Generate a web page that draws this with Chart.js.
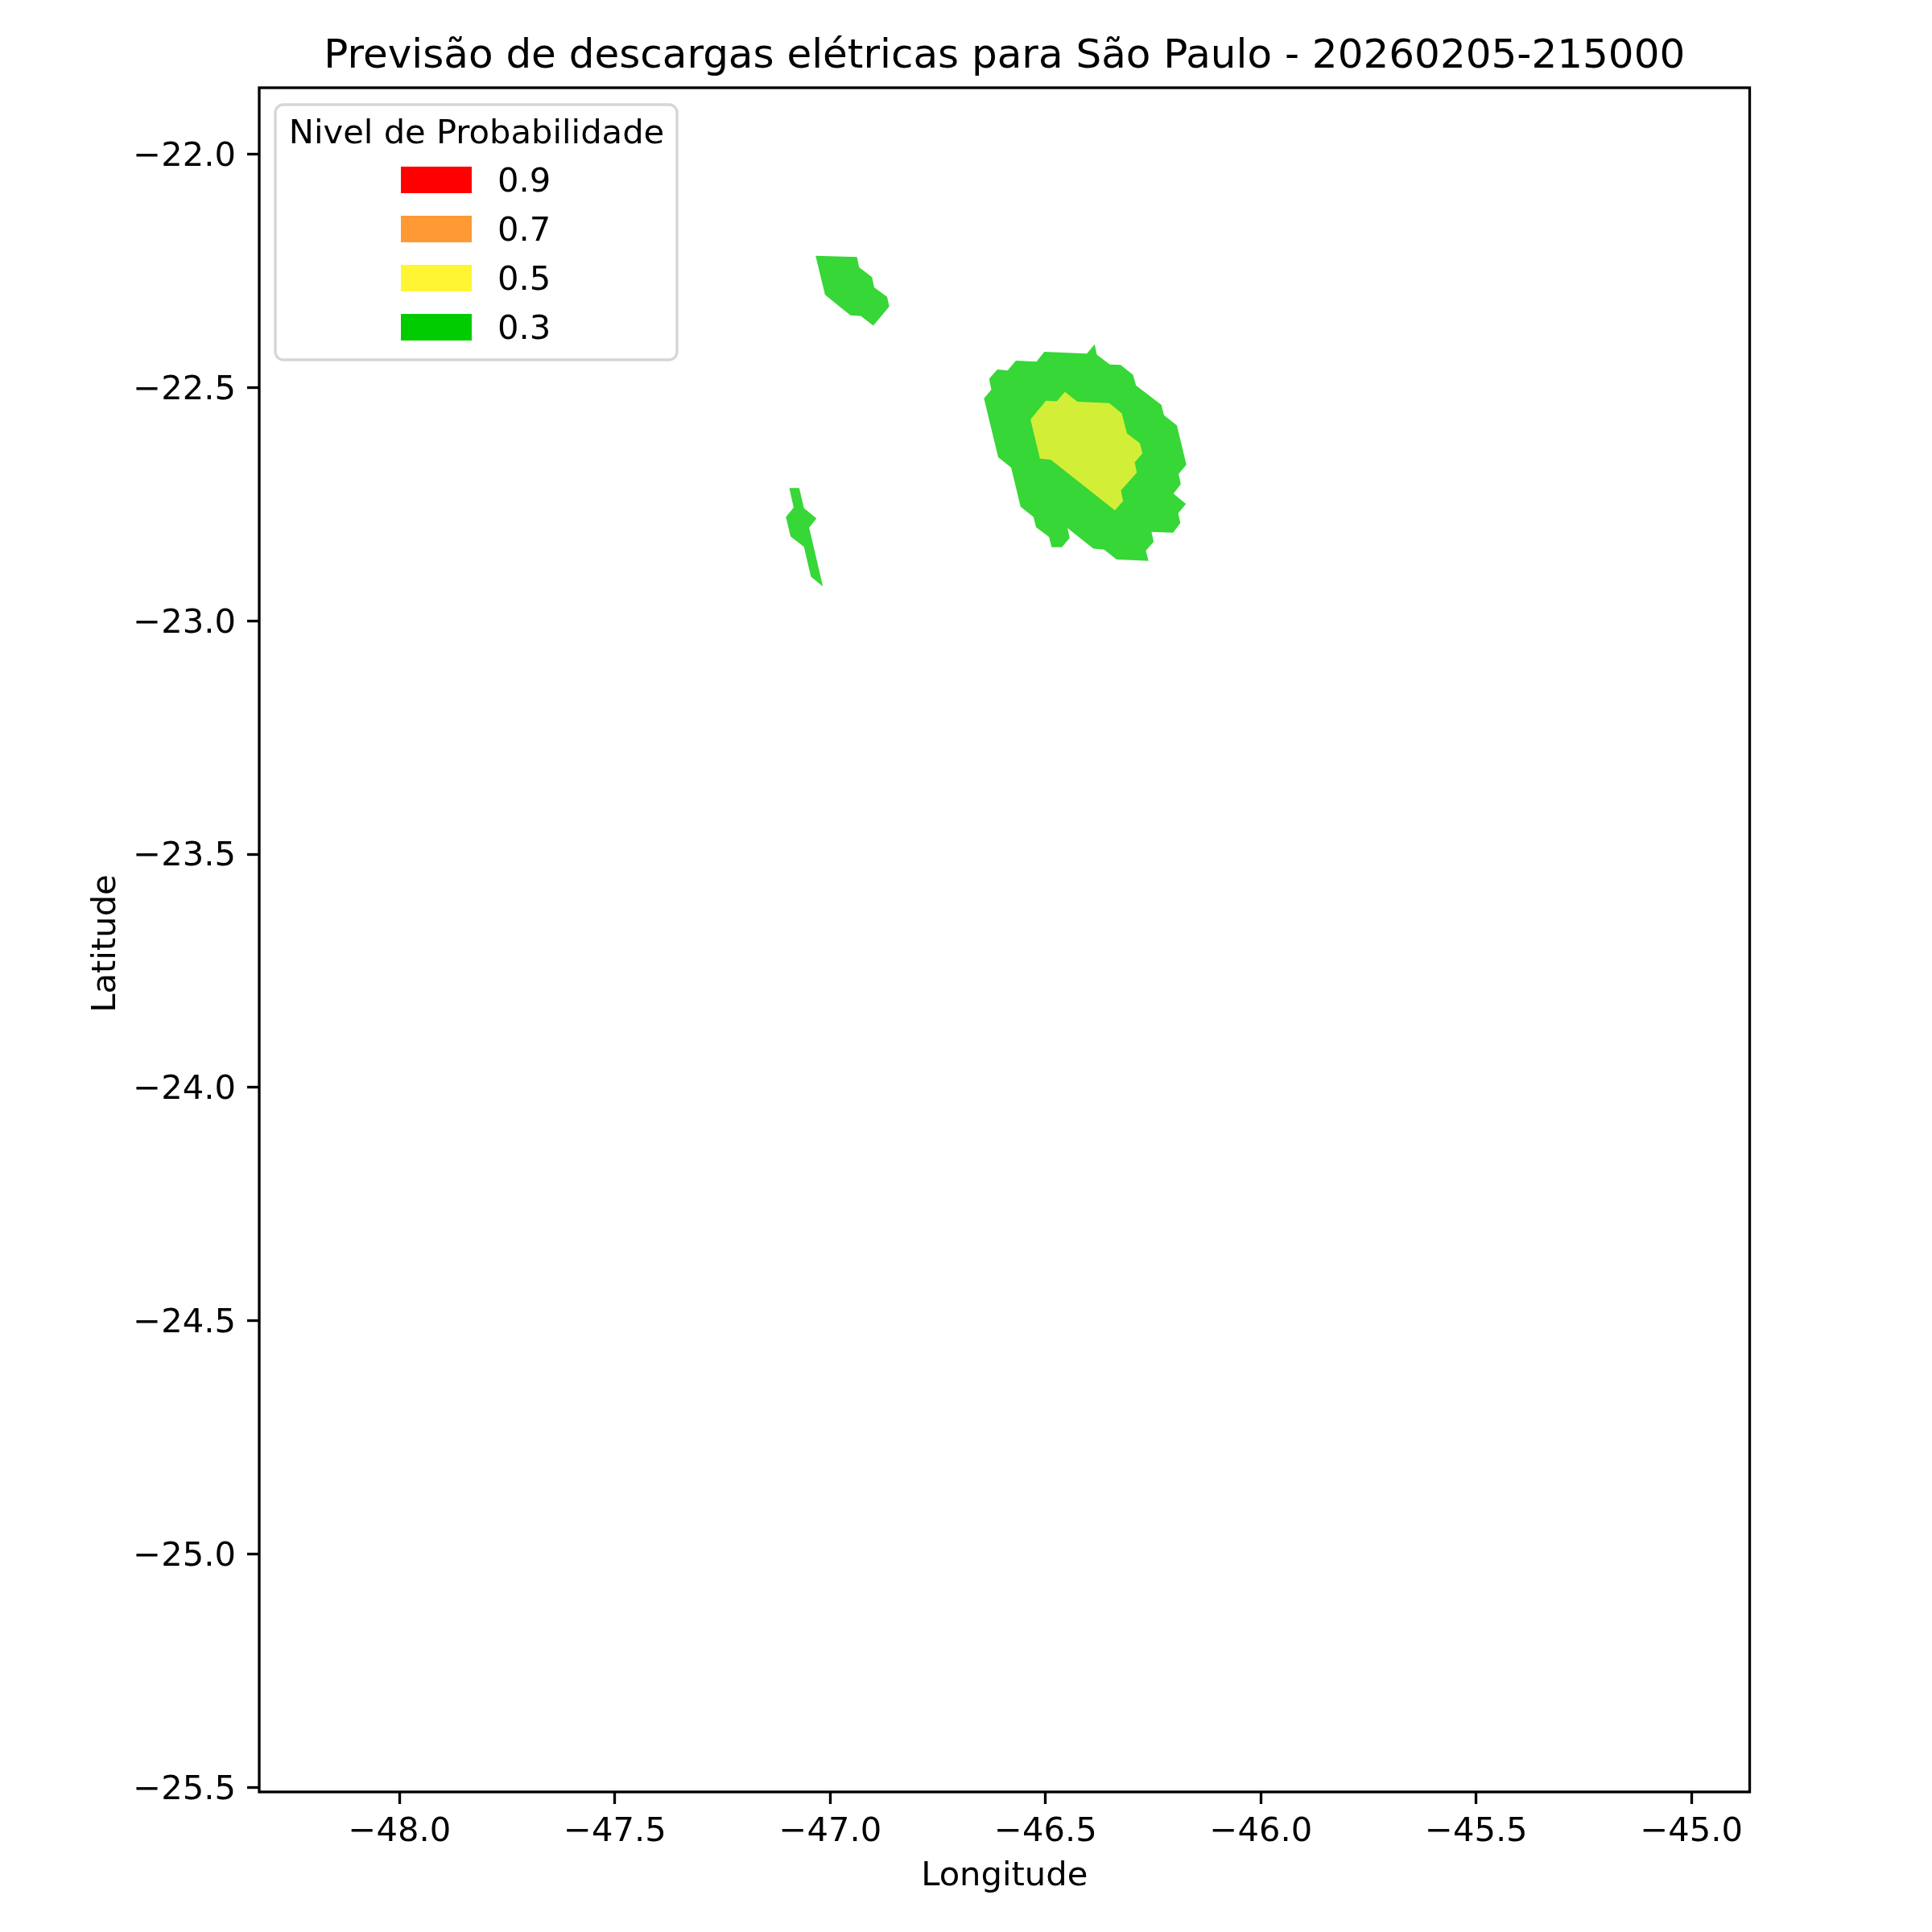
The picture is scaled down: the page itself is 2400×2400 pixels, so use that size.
<!DOCTYPE html>
<html>
<head>
<meta charset="utf-8">
<title>Previsão de descargas elétricas</title>
<script src="https://cdn.jsdelivr.net/npm/chart.js@4"></script>
<style>
  html, body { margin: 0; padding: 0; background: #fff; }
  canvas { display: block; }
</style>
</head>
<body>
<canvas id="chart" width="2400" height="2400"></canvas>
<script>
const TITLE = 'Previsão de descargas elétricas para São Paulo - 20260205-215000';
const X_LABEL = 'Longitude';
const Y_LABEL = 'Latitude';
const LEGEND_TITLE = 'Nivel de Probabilidade';

const xTicks = [-48, -47.5, -47, -46.5, -46, -45.5, -45];
const yTicks = [-22, -22.5, -23, -23.5, -24, -24.5, -25, -25.5];
const xRange = [-48.326, -44.865];
const yRange = [-25.51, -21.857];

const legendLabels = ['0.9', '0.7', '0.5', '0.3'];
const legendColors = ['#ff0000', '#ff9933', '#fff533', '#00cc00'];

const bandGreen = '#36d736';
const bandYellow = '#d3ee36';

// main cell, 0.3 band
const mainLon = [-46.643, -46.626, -46.631, -46.612, -46.588, -46.569, -46.521, -46.503, -46.404, -46.386, -46.381,
  -46.351, -46.326, -46.297, -46.290, -46.231, -46.225, -46.195, -46.173, -46.191, -46.186, -46.203, -46.174,
  -46.192, -46.187, -46.204, -46.254, -46.249, -46.267, -46.261, -46.335, -46.364, -46.389, -46.449, -46.444,
  -46.462, -46.486, -46.492, -46.522, -46.528, -46.558, -46.580, -46.610];
const mainLat = [-22.523, -22.504, -22.481, -22.461, -22.463, -22.442, -22.444, -22.423, -22.427, -22.407, -22.429,
  -22.450, -22.451, -22.472, -22.495, -22.537, -22.559, -22.581, -22.665, -22.685, -22.707, -22.727, -22.749,
  -22.769, -22.790, -22.811, -22.809, -22.830, -22.849, -22.871, -22.868, -22.847, -22.845, -22.801, -22.822,
  -22.842, -22.842, -22.820, -22.799, -22.777, -22.755, -22.671, -22.649];

// main cell, 0.5 band
const coreLon = [-46.535, -46.499, -46.474, -46.455, -46.426, -46.352, -46.323, -46.311, -46.281, -46.275, -46.293,
  -46.288, -46.325, -46.320, -46.339, -46.488, -46.513];
const coreLat = [-22.568, -22.528, -22.529, -22.509, -22.530, -22.533, -22.555, -22.598, -22.619, -22.641, -22.660,
  -22.682, -22.720, -22.743, -22.763, -22.654, -22.652];

const northLon = [-47.034, -46.938, -46.933, -46.903, -46.898, -46.868, -46.863, -46.900, -46.929, -46.953, -47.012];
const northLat = [-22.217, -22.220, -22.242, -22.263, -22.285, -22.305, -22.326, -22.367, -22.346, -22.345, -22.301];

const southLon = [-47.095, -47.072, -47.061, -47.032, -47.049, -47.017, -47.045, -47.061, -47.092, -47.103, -47.085];
const southLat = [-22.715, -22.715, -22.758, -22.780, -22.800, -22.926, -22.905, -22.841, -22.819, -22.777, -22.757];

const FONT = '"DejaVu Sans"';
const LW = 3.33;

function polygon(lons, lats, color) {
  return {
    data: lons.map((x, i) => ({ x, y: lats[i] })),
    showLine: true,
    fill: 'shape',
    backgroundColor: color,
    borderColor: color,
    borderWidth: 0,
    pointRadius: 0,
    tension: 0,
  };
}

function tickLabel(value) {
  return `−${Math.abs(value).toFixed(1)}`;
}

// axes frame, y label and the legend box
const framePlugin = {
  id: 'frame',
  afterDraw(chart) {
    const { ctx, chartArea: a } = chart;
    ctx.save();
    ctx.strokeStyle = '#000';
    ctx.lineWidth = LW;
    ctx.strokeRect(a.left, a.top, a.right - a.left, a.bottom - a.top);

    ctx.fillStyle = '#fff';
    ctx.strokeStyle = '#d6d6d6';
    ctx.beginPath();
    ctx.roundRect(a.left + 20, a.top + 21, 499, 317, 10);
    ctx.fill();
    ctx.stroke();

    ctx.fillStyle = '#000';
    ctx.font = `41.67px ${FONT}`;
    ctx.textBaseline = 'alphabetic';
    ctx.textAlign = 'center';
    ctx.fillText(LEGEND_TITLE, a.left + 270, a.top + 69);
    ctx.textAlign = 'left';
    legendLabels.forEach((label, i) => {
      const top = a.top + 98 + i * 61;
      ctx.fillStyle = legendColors[i];
      ctx.fillRect(a.left + 176, top, 88, 33);
      ctx.fillStyle = '#000';
      ctx.fillText(label, a.left + 296, top + 31);
    });

    ctx.translate(143, (a.top + a.bottom) / 2 + 4.5);
    ctx.rotate(-Math.PI / 2);
    ctx.textAlign = 'center';
    ctx.fillText(Y_LABEL, 0, 0);
    ctx.restore();
  },
};

new Chart(document.getElementById('chart'), {
  type: 'scatter',
  data: {
    datasets: [
      polygon(coreLon, coreLat, bandYellow),
      polygon(mainLon, mainLat, bandGreen),
      polygon(northLon, northLat, bandGreen),
      polygon(southLon, southLat, bandGreen),
    ],
  },
  options: {
    responsive: false,
    devicePixelRatio: 1,
    animation: false,
    layout: { padding: { left: 0, right: 226.5, top: 0, bottom: 0 } },
    plugins: {
      legend: { display: false },
      tooltip: { enabled: false },
      title: {
        display: true,
        text: TITLE,
        fullSize: false,
        color: '#000',
        font: { family: FONT, size: 50, weight: 'normal', lineHeight: 1.2 },
        padding: { top: 41, bottom: 8 },
      },
    },
    scales: {
      x: {
        type: 'linear',
        min: xRange[0],
        max: xRange[1],
        afterBuildTicks: (scale) => { scale.ticks = xTicks.map((value) => ({ value })); },
        afterFit: (scale) => { scale.height = 174; },
        border: { display: false },
        grid: { drawOnChartArea: false, drawTicks: true, tickLength: 15, tickColor: '#000', tickWidth: LW },
        ticks: {
          color: '#000',
          font: { family: FONT, size: 41.67 },
          padding: 10,
          maxRotation: 0,
          autoSkip: false,
          callback: tickLabel,
        },
        title: {
          display: true,
          text: X_LABEL,
          color: '#000',
          font: { family: FONT, size: 41.67 },
          padding: { top: 0, bottom: 44 },
        },
      },
      y: {
        type: 'linear',
        min: yRange[0],
        max: yRange[1],
        afterBuildTicks: (scale) => { scale.ticks = yTicks.map((value) => ({ value })); },
        afterFit: (scale) => { scale.width = 322; },
        border: { display: false },
        grid: { drawOnChartArea: false, drawTicks: true, tickLength: 15, tickColor: '#000', tickWidth: LW },
        ticks: {
          color: '#000',
          font: { family: FONT, size: 41.67 },
          padding: 14,
          labelOffset: 3.5,
          autoSkip: false,
          callback: tickLabel,
        },
      },
    },
  },
  plugins: [framePlugin],
});
</script>
</body>
</html>
